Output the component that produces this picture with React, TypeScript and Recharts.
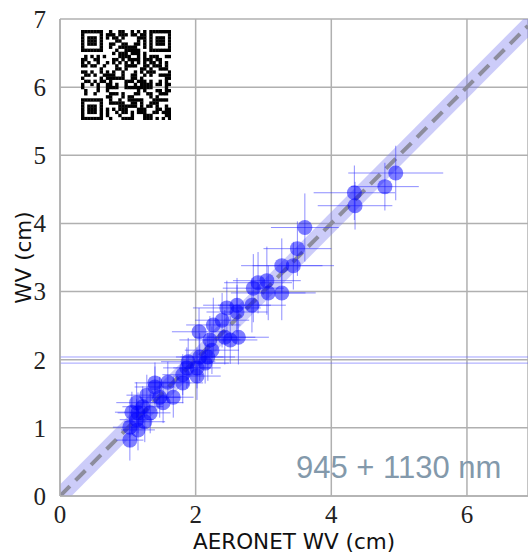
import {
  ComposedChart,
  Scatter,
  Line,
  Area,
  XAxis,
  YAxis,
  CartesianGrid,
  ErrorBar,
  ReferenceLine,
} from 'recharts'

// AERONET water vapour (cm) vs retrieved WV (cm)
const aeronetWv = [
  4.95, 4.79, 4.34, 4.35, 3.61, 3.5, 3.27, 3.44, 3.05, 2.92, 2.85, 3.07, 3.27,
  2.61, 2.83, 2.46, 2.61, 2.39, 2.26, 2.05, 2.43, 2.63, 2.51, 2.21, 2.24, 2.18,
  2.14, 1.89, 1.87, 2.02, 2.06, 1.81, 2.02, 1.4, 1.59, 1.81, 1.4, 1.28, 1.47,
  1.67, 1.52, 1.13, 1.22, 1.06, 1.15, 1.33, 1.13, 1.25, 1.03, 1.15, 1.03,
]
const retrievedWv = [
  4.74, 4.54, 4.45, 4.26, 3.94, 3.63, 3.38, 3.38, 3.16, 3.13, 3.05, 2.98, 2.98,
  2.8, 2.8, 2.76, 2.7, 2.58, 2.51, 2.41, 2.33, 2.33, 2.29, 2.29, 2.14, 2.04,
  1.95, 1.97, 1.88, 1.88, 2.04, 1.78, 1.76, 1.66, 1.67, 1.66, 1.6, 1.48, 1.45,
  1.45, 1.37, 1.37, 1.31, 1.23, 1.22, 1.22, 1.12, 1.09, 1.01, 0.97, 0.82,
]
const errAeronet = [
  0.7, 0.5, 0.6, 0.55, 0.5, 0.5, 0.6, 0.6, 0.5, 0.5, 0.45, 0.55, 0.5, 0.5, 0.5,
  0.5, 0.45, 0.4, 0.4, 0.4, 0.45, 0.45, 0.4, 0.45, 0.4, 0.4, 0.35, 0.4, 0.35,
  0.35, 0.35, 0.3, 0.35, 0.3, 0.3, 0.3, 0.3, 0.3, 0.3, 0.3, 0.3, 0.3, 0.3, 0.25,
  0.3, 0.3, 0.25, 0.3, 0.25, 0.25, 0.2,
]
const errRetrieved = [
  0.4, 0.35, 0.4, 0.35, 0.5, 0.4, 0.4, 0.35, 0.5, 0.45, 0.5, 0.4, 0.4, 0.4, 0.4,
  0.4, 0.4, 0.4, 0.4, 0.35, 0.4, 0.4, 0.35, 0.35, 0.35, 0.35, 0.3, 0.35, 0.3,
  0.3, 0.35, 0.3, 0.35, 0.3, 0.3, 0.3, 0.3, 0.3, 0.3, 0.3, 0.3, 0.3, 0.3, 0.3,
  0.3, 0.3, 0.3, 0.3, 0.3, 0.3, 0.3,
]

// 1:1 line and its uncertainty band
const diagX = [0, 6.9]
const diagY = [0, 6.9]
const bandLow = [-0.17, 6.73]
const bandHigh = [0.17, 7.07]

const wideBarsY = [1.95, 2.04]

const xTicks = [0, 2, 4, 6]
const yTicks = [0, 1, 2, 3, 4, 5, 6, 7]

const points = aeronetWv.map((x, i) => ({
  x,
  y: retrievedWv[i],
  ex: errAeronet[i],
  ey: errRetrieved[i],
}))

const diag = diagX.map((x, i) => ({
  x,
  y: diagY[i],
  band: [bandLow[i], bandHigh[i]],
}))

const tickFont = { fill: '#222', fontSize: 25, fontFamily: 'Liberation Serif' }
const labelFont = { fill: '#111', fontSize: 21.5, fontFamily: 'DejaVu Sans' }

// decorative QR block, fixed pattern
function QrBlock() {
  const n = 29
  const cell = 90 / n
  const cells: JSX.Element[] = []
  let s = 12345
  const finder = (r: number, c: number) => {
    const inBox = (r0: number, c0: number) =>
      r >= r0 && r < r0 + 7 && c >= c0 && c < c0 + 7
    const check = (r0: number, c0: number) => {
      const dr = r - r0
      const dc = c - c0
      if (dr === 0 || dr === 6 || dc === 0 || dc === 6) return true
      if (dr >= 2 && dr <= 4 && dc >= 2 && dc <= 4) return true
      return false
    }
    if (inBox(0, 0)) return check(0, 0)
    if (inBox(0, n - 7)) return check(0, n - 7)
    if (inBox(n - 7, 0)) return check(n - 7, 0)
    if (r === 7 && (c < 8 || c >= n - 8)) return false
    if (r === n - 8 && c < 8) return false
    if (c === 7 && (r < 8 || r >= n - 8)) return false
    if (c === n - 8 && r < 8) return false
    return null
  }
  for (let r = 0; r < n; r++) {
    for (let c = 0; c < n; c++) {
      s = (s * 1103515245 + 12345) & 0x7fffffff
      const f = finder(r, c)
      const on = f === null ? (s >> 16) % 2 === 0 : f
      if (on)
        cells.push(
          <rect
            key={r * n + c}
            x={c * cell}
            y={r * cell}
            width={cell + 0.3}
            height={cell + 0.3}
            fill="#000"
          />
        )
    }
  }
  return (
    <svg
      width={90}
      height={90}
      style={{ position: 'absolute', left: 81, top: 30 }}
    >
      {cells}
    </svg>
  )
}

export default function App() {
  return (
    <div
      style={{
        position: 'absolute',
        left: 0,
        top: 0,
        width: 528,
        height: 553,
        background: '#fff',
      }}
    >
      <ComposedChart
        width={528}
        height={553}
        margin={{ top: 19, right: 0, left: 0, bottom: 0 }}
      >
        <CartesianGrid stroke="#b0b0b0" strokeWidth={1.5} />
        <XAxis
          dataKey="x"
          type="number"
          domain={[0, 6.9]}
          ticks={xTicks}
          allowDataOverflow
          height={57}
          tick={tickFont}
          tickLine={false}
          tickMargin={3}
          axisLine={{ stroke: '#b0b0b0', strokeWidth: 1.5 }}
          label={{
            value: 'AERONET WV (cm)',
            position: 'insideBottom',
            offset: 4,
            style: labelFont,
          }}
        />
        <YAxis
          type="number"
          domain={[0, 7]}
          ticks={yTicks}
          allowDataOverflow
          width={60}
          tick={tickFont}
          tickLine={false}
          tickMargin={8}
          axisLine={{ stroke: '#b0b0b0', strokeWidth: 1.5 }}
          label={{
            value: 'WV (cm)',
            angle: -90,
            position: 'insideLeft',
            offset: 23,
            style: { ...labelFont, textAnchor: 'middle' },
          }}
        />
        <Area
          data={diag}
          dataKey="band"
          type="linear"
          stroke="none"
          fill="#8080f0"
          fillOpacity={0.4}
          isAnimationActive={false}
        />
        <Line
          data={diag}
          dataKey="y"
          type="linear"
          stroke="#8c8c9c"
          strokeWidth={4}
          strokeDasharray="14 8"
          dot={false}
          isAnimationActive={false}
        />
        {wideBarsY.map((v) => (
          <ReferenceLine
            key={v}
            y={v}
            stroke="#6060ff"
            strokeOpacity={0.6}
            strokeWidth={1}
          />
        ))}
        <Scatter
          data={points}
          dataKey="y"
          isAnimationActive={false}
          shape={(p: any) => (
            <circle
              cx={p.cx}
              cy={p.cy}
              r={7.5}
              fill="#0000ff"
              fillOpacity={0.5}
            />
          )}
        >
          <ErrorBar
            dataKey="ex"
            direction="x"
            width={0}
            stroke="#3030ff"
            strokeOpacity={0.55}
            strokeWidth={1}
          />
          <ErrorBar
            dataKey="ey"
            direction="y"
            width={0}
            stroke="#3030ff"
            strokeOpacity={0.55}
            strokeWidth={1}
          />
        </Scatter>
        <text
          x={296}
          y={478}
          fill="#8399ab"
          fontSize={31}
          fontFamily="Liberation Sans"
        >
          945 + 1130 nm
        </text>
      </ComposedChart>
      <QrBlock />
    </div>
  )
}
